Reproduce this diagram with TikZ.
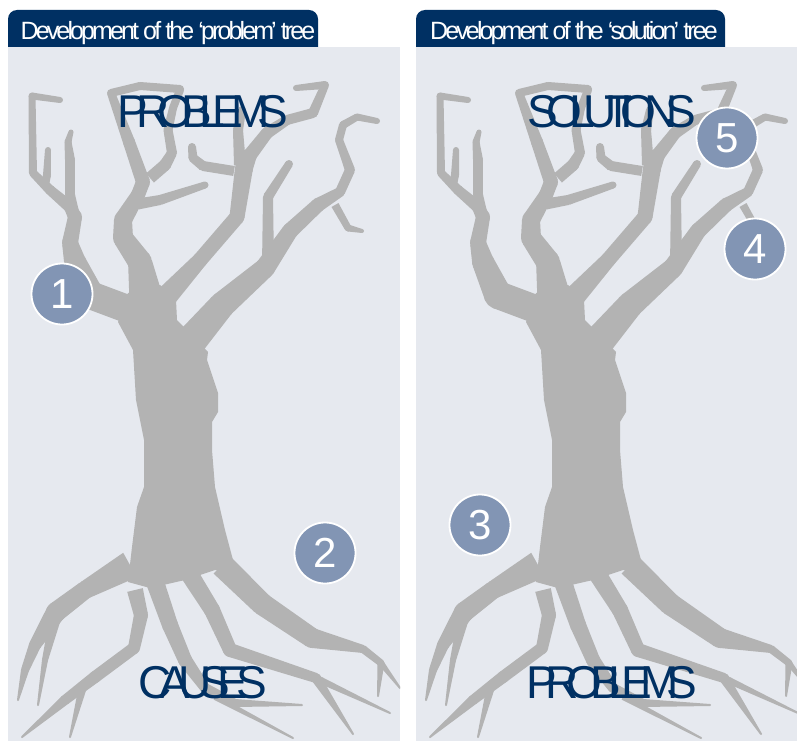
\documentclass[tikz,border=0pt]{standalone}
\usepackage{fontspec}
\setmainfont{Liberation Sans}
\newfontfamily\labfont[LetterSpace=-26.5]{Liberation Sans}
\newfontfamily\hdrfont[LetterSpace=-11.5]{Liberation Sans}
\newfontfamily\numfont{Liberation Sans}
\usetikzlibrary{calc}
\definecolor{treegray}{RGB}{179,179,179}
\definecolor{panelbg}{RGB}{230,233,239}
\definecolor{navy}{RGB}{0,48,99}
\definecolor{dotblue}{RGB}{130,149,180}

\newcommand\seg[6]{%
 \fill[treegray] ($(#1,#2)!#3pt!90:(#4,#5)$) -- ($(#4,#5)!#6pt!-90:(#1,#2)$) -- ($(#4,#5)!#6pt!90:(#1,#2)$) -- ($(#1,#2)!#3pt!-90:(#4,#5)$) -- cycle;
 \fill[treegray] (#4,#5) circle[radius=#6pt];}

\newcommand\limb[1]{%
 \foreach \qx/\qy/\qh [count=\qi, remember=\qx as \px (initially 0), remember=\qy as \py (initially 0), remember=\qh as \ph (initially 0)] in {#1}{%
  \ifnum\qi>1 \seg{\px}{\py}{\ph}{\qx}{\qy}{\qh}\fi}}

\newcommand\drawtree{%
 \fill[treegray] (132,547) -- (137,507) -- (144,487) -- (144,440) -- (136,400) -- (133,350) -- (118,322) -- (128,293) -- (160,285) -- (176,300) -- (177,320) -- (208,352) -- (207,360) -- (218,393) -- (218,412) -- (212,422) -- (212,450) -- (215,487) -- (225,530) -- (233,560) -- (240,575) -- (215,570) -- (185,580) -- (150,588) -- (128,582) -- cycle;
 % branch A
 \limb{130/310/14, 90/295/14, 75/262/11, 70/243/8, 75/217/7, 70/207/6}
 \limb{70/207/6, 50/190/5, 33/173/4, 32/96/3.5, 60/100/3}
 \limb{74/212/5, 70/195/5, 70/160/5, 68/142/3.5, 71/132/2.5}
 \limb{45/185/4, 47/175/4, 48/150/3}
 % branch B
 \limb{145/292/16, 140/262/12, 123/238/10, 123/220/9, 138/195/7, 143/182/7}
 \limb{138/204/5.5, 160/200/5, 205/185/3.5}
 \limb{143/182/7, 129/142/6, 111/93/4, 140/86/4, 180/89/4}
 \limb{150/178/6, 165/165/6, 172/153/5, 168/130/4.5, 173/108/4, 180/90/4}
 % branch C
 \limb{165/298/11, 200/260/7.5, 237/217/7.5, 244/168/9, 250/155/7, 267/133/6, 287/120/5, 313/113/5, 325/85/4, 296/88/3}
 \limb{234/171/5, 203/166/5, 193/158/4.5, 192/147/4}
 \limb{240/165/6, 238/130/5, 242/110/4}
 % branch D
 \limb{268/265/6, 268/197/5, 289/164/4}
 % branch E
 \limb{185/348/16, 222/305/13, 265/268/10, 290/231/8, 318/205/7, 340/192/5, 350/170/5, 339/140/4, 343/125/4, 357/117/3.5, 377/121/3}
 \limb{335/205/4, 348/228/3.5, 362/231/2}
 % roots
 \limb{130/565/14, 85/590/9, 56/612/10, 35/645/6, 25/670/4, 18/700/1}
 \limb{56/615/6, 45/660/3, 38/705/1}
 \limb{135/590/8, 141/615/7, 134/648/6, 95/677/6, 65/700/5, 22/737/1}
 \limb{82/690/4, 70/737/1}
 \limb{155/582/9, 170/625/8, 185/660/7, 205/688/5, 235/703/4, 302/705/1}
 \limb{215/697/3, 293/738/1}
 \limb{190/575/9, 212/610/8, 230/650/7, 316/678/5, 353/734/1}
 \limb{320/680/3.5, 390/713/1}
 \limb{222/565/12, 262/604/11, 312/638/10, 363/649/4, 381/663/3.5, 378/696/1}
 \limb{381/663/3, 400/688/1}
}

\tikzset{
 hdrtext/.style={anchor=base, text=white, font=\hdrfont\fontsize{25}{25}\selectfont, inner sep=0pt},
 biglab/.style={anchor=base, text=navy, font=\labfont\fontsize{46}{46}\selectfont, inner sep=0pt},
 numdot/.style={circle, fill=dotblue, draw=white, line width=1.8pt, minimum size=61pt, inner sep=0pt, text=white, font=\numfont\fontsize{42}{42}\selectfont}
}

\begin{document}
\begin{tikzpicture}[x=1pt,y=-1pt]
\fill[white] (0,0) rectangle (797,741);
\useasboundingbox (0,0) rectangle (797,741);
% headers
\fill[navy, rounded corners=9pt] (8,10) rectangle (318,62);
\fill[navy, rounded corners=9pt] (416,10) rectangle (725,62);
% panels
\fill[panelbg] (8,47) rectangle (400,741);
\fill[panelbg] (416,47) rectangle (797,741);
% trees
\begin{scope}
 \clip (8,47) rectangle (400,741);
 \drawtree
\end{scope}
\begin{scope}
 \clip (416,47) rectangle (797,741);
 \begin{scope}[xshift=408pt]
  \drawtree
 \end{scope}
\end{scope}
% header texts
\node[hdrtext] (h1) at (168,40) {Development of the ‘problem’ tree};
\node[hdrtext] (h2) at (574,40) {Development of the ‘solution’ tree};
% labels
\node[biglab] (top1) at (203,128) {PROBLEMS};
\node[biglab] (bot1) at (203,698) {CAUSES};
\node[biglab] (top2) at (612,128) {SOLUTIONS};
\node[biglab] (bot2) at (612,698) {PROBLEMS};
% numbered markers
\node[numdot] (n1) at (62,294) {1};
\node[numdot] (n2) at (325,553) {2};
\node[numdot] (n3) at (480,525) {3};
\node[numdot] (n4) at (755,249) {4};
\node[numdot] (n5) at (727,138) {5};
\end{tikzpicture}
\end{document}
